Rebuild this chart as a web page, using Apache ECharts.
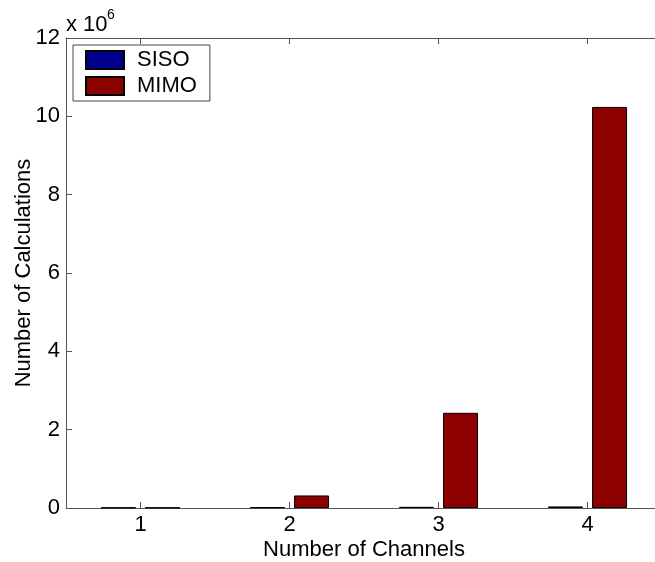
<!DOCTYPE html>
<html>
<head>
<meta charset="utf-8">
<script src="https://cdn.jsdelivr.net/npm/echarts@6/dist/echarts.min.js"></script>
<style>html,body{margin:0;padding:0;background:#fff;}#c{width:655px;height:562px;}</style>
</head>
<body>
<div id="c"></div>
<script>
const categories = ['1', '2', '3', '4'];
const sisoValues = [10000, 20000, 30000, 40000];
const mimoValues = [10000, 320000, 2430000, 10240000];
const yTicks = [0, 2, 4, 6, 8, 10, 12];
const yScale = 1e6;

const FONT = '"Liberation Sans", Arial, sans-serif';
const FS = 22;
const axisColor = '#555';
const chart = echarts.init(document.getElementById('c'), null, {renderer: 'canvas'});
chart.setOption({
  animation: false,
  backgroundColor: '#fff',
  textStyle: {fontFamily: FONT},
  grid: {left: 66, top: 38, width: 596, height: 470, containLabel: false, outerBoundsMode: 'none'},
  legend: {
    orient: 'vertical', left: 73, top: 45,
    data: ['SISO', 'MIMO'],
    itemWidth: 38, itemHeight: 18, itemGap: 4,
    padding: [4, 13, 4, 12],
    borderColor: '#444', borderWidth: 1, backgroundColor: '#fff',
    textStyle: {fontFamily: FONT, fontSize: FS, color: '#000', lineHeight: 21, padding: [0, 0, 0, 8]},
    icon: 'rect'
  },
  xAxis: [{
    type: 'category', data: categories, position: 'bottom',
    name: 'Number of Channels', nameLocation: 'middle', nameGap: 31, nameMoveOverlap: false,
    nameTextStyle: {fontFamily: FONT, fontSize: FS, color: '#000'},
    axisLine: {show: true, lineStyle: {color: axisColor, width: 1}},
    axisTick: {show: true, inside: true, alignWithLabel: true, length: 6, lineStyle: {color: axisColor}},
    axisLabel: {fontFamily: FONT, fontSize: FS, color: '#000', margin: 6},
    splitLine: {show: false}
  }, {
    type: 'category', data: categories, position: 'top',
    axisLine: {show: true, lineStyle: {color: axisColor, width: 1}},
    axisTick: {show: true, inside: true, alignWithLabel: true, length: 6, lineStyle: {color: axisColor}},
    axisLabel: {show: false},
    splitLine: {show: false}
  }],
  yAxis: {
    type: 'value', min: 0, max: 12 * yScale, interval: 2 * yScale,
    name: 'Number of Calculations', nameLocation: 'middle', nameGap: 31, nameMoveOverlap: false,
    nameTextStyle: {fontFamily: FONT, fontSize: FS, color: '#000'},
    axisLine: {show: true, lineStyle: {color: axisColor, width: 1}},
    axisTick: {show: true, inside: true, length: 6, lineStyle: {color: axisColor}},
    axisLabel: {fontFamily: FONT, fontSize: FS, color: '#000', margin: 6,
      formatter: v => String(Math.round(v / yScale))},
    splitLine: {show: false}
  },
  graphic: [
    {type: 'text', left: 66, top: 14, style: {text: 'x 10', font: FS + 'px ' + FONT, fill: '#000'}},
    {type: 'text', left: 107, top: 8, style: {text: '6', font: '14px ' + FONT, fill: '#000'}}
  ],
  series: [{
    name: 'SISO', type: 'bar', data: sisoValues, barWidth: 35, barGap: '26%',
    itemStyle: {color: '#00008F', borderColor: '#000', borderWidth: 1}
  }, {
    name: 'MIMO', type: 'bar', data: mimoValues, barWidth: 35, barGap: '26%',
    itemStyle: {color: '#8C0000', borderColor: '#000', borderWidth: 1}
  }]
});
</script>
</body>
</html>
